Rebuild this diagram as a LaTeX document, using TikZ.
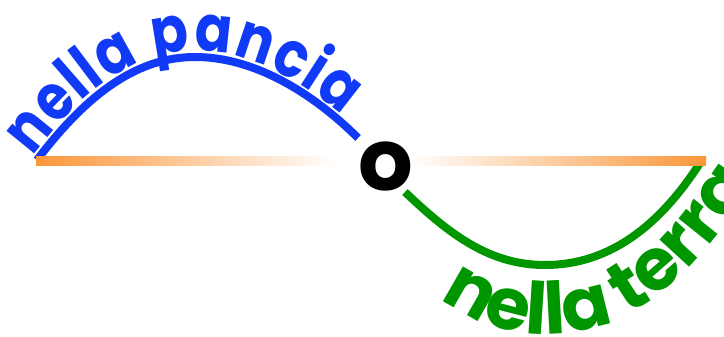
\documentclass[tikz,border=0pt]{standalone}
\usepackage{fontspec}
\setmainfont{Poppins}
\newfontfamily\wavefam{Poppins}[FakeStretch=0.85]
\usepackage{xcolor}
\usepackage{tikz}
\usetikzlibrary{decorations.text, positioning}
\definecolor{panciablue}{RGB}{16, 58, 245}
\definecolor{terragreen}{RGB}{0, 150, 0}
\definecolor{lineorange}{RGB}{250, 150, 58}
\newcommand{\panciafont}{\wavefam\fontsize{64}{64}\selectfont\bfseries}
\newcommand{\terrafont}{\fontsize{72}{72}\selectfont\bfseries}

\begin{document}
\begin{tikzpicture}[x=1pt, y=-1pt,
    wave/.style={line width=8pt},
    word/.style={font=\fontsize{86}{86}\selectfont\bfseries, inner sep=0pt}
  ]
  \path[use as bounding box, clip] (0,0) rectangle (724,337);
  % points of the two arcs
  \coordinate (pstart) at (37,160);
  \coordinate (ptop) at (195,57);
  \coordinate (pend) at (358,138);
  \coordinate (tstart) at (405,192);
  \coordinate (tlow) at (545,265);
  \coordinate (tend) at (700,163);
  % baseline under the green arc
  \coordinate (bstart) at (440,298);
  \coordinate (blow) at (625,317);
  \coordinate (bend) at (750,190);

  \draw[wave, panciablue] (pstart) .. controls (90,90) and (140,57) .. (ptop)
    .. controls (260,57) and (320,100) .. (pend);
  \draw[wave, terragreen] (tstart) .. controls (450,235) and (490,265) .. (tlow)
    .. controls (610,265) and (660,225) .. (tend);

  \shade[left color=lineorange, right color=white] (36,157) rectangle (335,165);
  \shade[left color=white, right color=lineorange] (409,157) rectangle (706,165);

  \node[word] (o) at (386,167) {o};

  % words along the arcs
  \path[decorate, decoration={text along path, raise=6pt, text color=panciablue,
      text align={fit to path, right indent=26pt},
      text={|\panciafont|nella pancia}}]
    (pstart) .. controls (90,90) and (140,57) .. (ptop)
    .. controls (260,57) and (320,100) .. (pend);
  \path[decorate, decoration={text along path, text color=terragreen,
      text={|\terrafont|nella terra}}]
    (bstart) .. controls (490,337) and (560,347) .. (blow)
    .. controls (670,293) and (710,250) .. (bend) -- (790,120);
\end{tikzpicture}
\end{document}
